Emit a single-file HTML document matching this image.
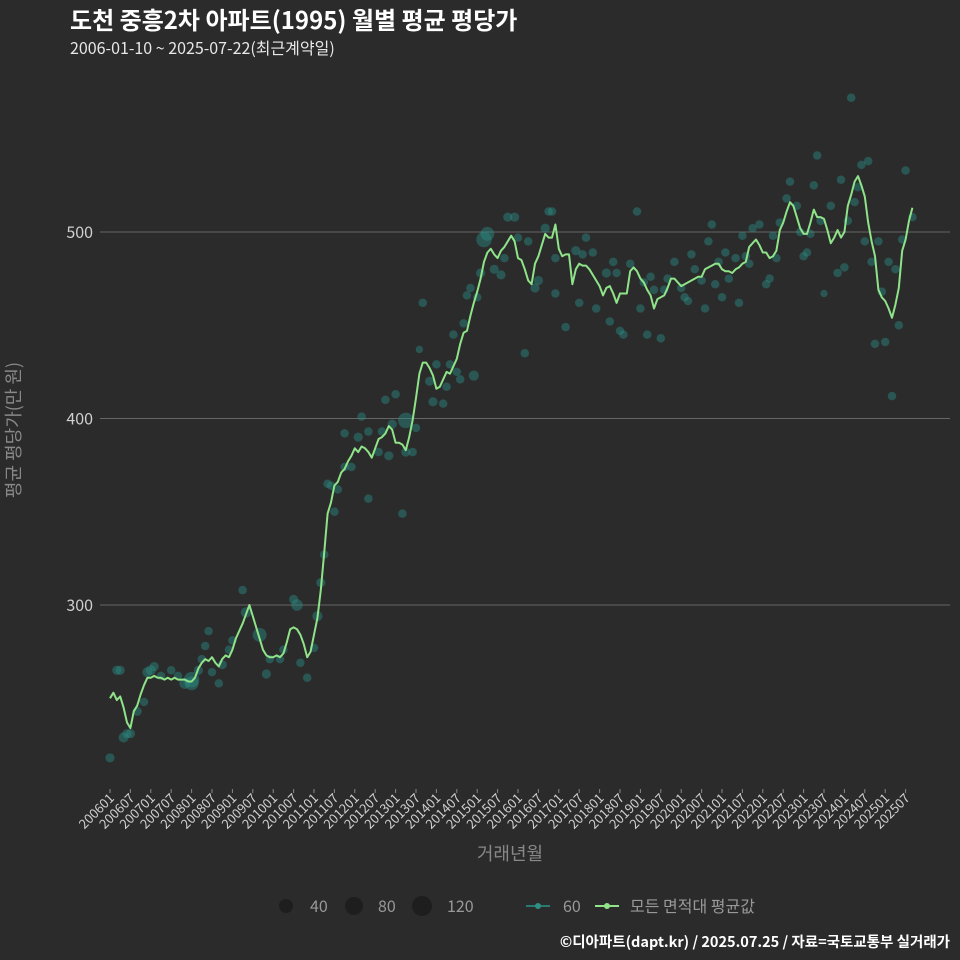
<!DOCTYPE html>
<html><head><meta charset="utf-8">
<style>
html,body{margin:0;padding:0;background:#2b2b2c;}
svg{display:block;font-family:"Noto Sans CJK KR","Liberation Sans",sans-serif;}
</style></head>
<body>
<svg id="chart" width="960" height="960" viewBox="0 0 960 960">
<rect width="960" height="960" fill="#2b2b2c"/>
<text x="70" y="29" fill="#ffffff" font-size="24" font-weight="bold">도천 중흥2차 아파트(1995) 월별 평균 평당가</text>
<text x="70" y="54" fill="#e8e8e8" font-size="16">2006-01-10 ~ 2025-07-22(최근계약일)</text>
<g id="grid"></g>
<g id="yaxis"></g>
<g id="xaxis"></g>
<g id="dots"></g>
<path id="avgline" fill="none" stroke="#8fe388" stroke-width="2" stroke-linejoin="round"/>
<text x="0" y="0" transform="translate(20,430) rotate(-90)" text-anchor="middle" fill="#888" font-size="18">평균 평당가(만 원)</text>
<text x="510" y="860" text-anchor="middle" fill="#888" font-size="18">거래년월</text>
<g>
<circle cx="286" cy="906" r="7" fill="#1e1e1f"/>
<text x="310" y="912" fill="#999" font-size="16">40</text>
<circle cx="354" cy="906" r="9" fill="#1e1e1f"/>
<text x="378" y="912" fill="#999" font-size="16">80</text>
<circle cx="422" cy="906" r="10" fill="#1e1e1f"/>
<text x="447" y="912" fill="#999" font-size="16">120</text>
<line x1="526" y1="906" x2="550" y2="906" stroke="#267a72" stroke-width="2"/>
<circle cx="538" cy="906" r="3" fill="#2f8f85"/>
<text x="563" y="912" fill="#999" font-size="16">60</text>
<line x1="595" y1="906" x2="619" y2="906" stroke="#8fe388" stroke-width="2"/>
<circle cx="607" cy="906" r="3" fill="#8fe388"/>
<text x="630" y="912" fill="#999" font-size="16">모든 면적대 평균값</text>
</g>
<text x="950" y="947" text-anchor="end" fill="#ffffff" font-size="14.5" font-weight="bold">©디아파트(dapt.kr) / 2025.07.25 / 자료=국토교통부 실거래가</text>
</svg>
<script>
// months since 2006-01 and average price
const avgMonths = [];
const avgValues = [250,253,249,251,245,237,234,243,246,252,257,261,261,262,261,261,260,261,260,261,260,260,260,259,259,261,266,269,271,270,272,269,267,271,273,272,276,282,286,290,295,300,294,288,282,276,273,272,272,273,272,274,280,287,288,287,284,279,272,275,284,293,308,328,349,355,364,366,371,373,377,380,384,382,385,384,382,379,384,389,390,392,396,394,387,387,386,383,390,399,411,424,430,430,427,423,416,417,421,425,424,428,432,440,446,447,455,462,468,475,484,489,491,488,486,490,492,495,498,495,486,485,480,474,472,483,487,493,499,497,497,504,491,487,488,488,472,480,483,482,482,480,477,474,471,466,470,471,467,462,467,467,467,479,481,479,475,473,469,466,459,464,465,466,470,475,475,473,471,472,473,474,475,476,476,480,481,482,483,483,480,479,479,478,480,481,483,484,492,494,496,493,489,489,486,487,490,501,505,511,516,514,508,502,499,499,505,512,508,508,507,501,494,497,501,497,500,514,520,527,530,525,519,505,495,487,469,465,463,459,454,461,470,490,496,506,513];
for (let i = 0; i < avgValues.length; i++) avgMonths.push(i);
// individual transactions: month index, price, area
const dotMonths = [0,2,3,4,5,6,8,10,11,12,13,15,18,20,22,24,24,26,27,28,29,30,32,33,35,36,39,40,44,46,47,50,51,54,55,56,58,60,61,62,63,64,65,66,67,69,69,71,73,74,76,76,79,80,81,82,83,84,86,87,87,89,90,91,92,94,95,96,98,99,100,101,102,103,104,105,106,107,108,109,110,111,113,115,116,117,119,120,122,123,125,126,128,129,130,131,131,134,137,138,139,140,142,143,146,147,148,149,150,151,153,155,156,157,158,159,160,162,163,164,166,168,169,170,171,172,174,175,176,177,178,179,180,181,182,184,185,186,187,188,189,191,193,194,195,196,197,199,200,202,203,204,205,206,207,208,209,210,212,214,215,216,217,218,219,220,221,222,223,224,225,226,227,228,229,230,231,232,233,234,236];
const dotValues = [218,265,265,229,231,231,243,248,264,265,267,262,265,262,258,260,258,265,271,278,286,264,258,268,276,281,308,296,284,263,271,271,276,303,300,269,261,277,294,312,327,365,364,350,362,374,392,374,390,401,357,393,382,393,410,380,397,413,349,382,399,382,395,437,462,420,409,429,408,417,429,445,425,421,451,466,470,423,465,478,496,499,480,477,486,508,508,497,435,495,470,474,502,511,511,467,486,449,490,462,488,497,489,459,478,452,484,478,447,445,483,511,459,473,445,476,469,443,469,475,484,470,465,463,488,480,474,459,495,504,472,484,465,489,475,486,462,498,487,483,502,504,472,475,498,486,505,518,527,514,500,487,489,499,525,541,506,467,514,478,528,481,506,572,516,524,536,495,538,484,440,495,468,441,484,412,480,450,496,533,508];
const dotSizes = [70,70,70,85,70,70,70,60,85,85,70,60,60,60,100,200,160,70,60,60,60,60,60,70,60,60,60,90,160,70,60,60,60,70,110,60,60,60,85,70,60,60,60,60,60,60,60,60,70,60,60,60,60,60,60,70,70,60,60,70,200,60,60,45,60,70,70,60,60,60,60,60,60,60,60,60,60,85,60,70,200,160,70,70,60,70,70,60,60,60,70,70,70,60,60,60,60,60,70,60,60,60,60,60,70,60,60,60,60,60,60,60,60,60,60,60,60,60,60,60,60,60,60,60,60,60,60,60,60,60,60,60,60,60,60,60,60,60,60,60,60,60,60,60,60,60,60,60,60,60,60,60,60,60,60,60,60,45,60,60,60,60,60,60,60,60,60,60,60,60,60,60,60,60,60,60,60,60,60,60,60];
const yTicks = [300,400,500];
const xTickLabels = [];
for (let y = 2006; y <= 2025; y++) { xTickLabels.push(y + '01'); xTickLabels.push(y + '07'); }

const NS = 'http://www.w3.org/2000/svg';
const X0 = 110, PXM = 20.4 / 6, LEFT = 100, RIGHT = 950;
function xScale(m) { return X0 + m * PXM; }
function yScale(v) { return 232 + (500 - v) * 1.865; }
function mk(tag, attrs, parent) {
  const e = document.createElementNS(NS, tag);
  for (const k in attrs) e.setAttribute(k, attrs[k]);
  parent.appendChild(e);
  return e;
}
const grid = document.getElementById('grid');
const yaxis = document.getElementById('yaxis');
yTicks.forEach(t => {
  const l = mk('line', {x1: LEFT, x2: RIGHT, y1: yScale(t), y2: yScale(t), stroke: '#666', 'stroke-width': 1}, grid);
  
  
  const tx = mk('text', {x: 93, y: yScale(t) + 6, 'text-anchor': 'end', fill: '#cfcfcf', 'font-size': 16}, yaxis);
  tx.textContent = t;
  
  
});
const xaxis = document.getElementById('xaxis');
xTickLabels.forEach((lab, i) => {
  const x = xScale(i * 6);
  const tk = mk('line', {x1: x, x2: x, y1: 789, y2: 793, stroke: '#888', 'stroke-width': 1}, xaxis);
  
  
  const tx = mk('text', {x: 0, y: 0, transform: 'translate(' + (x + 5) + ',799) rotate(-45)', 'text-anchor': 'end', fill: '#cfcfcf', 'font-size': 13}, xaxis);
  tx.textContent = lab;
  
  
});
const dots = document.getElementById('dots');
dotMonths.forEach((m, i) => {
  const c = mk('circle', {cx: xScale(m), cy: yScale(dotValues[i]), r: Math.sqrt(dotSizes[i]) * 0.55, fill: '#2a8c82', 'fill-opacity': 0.45}, dots);
  
  
});
let d = '';
avgMonths.forEach((m, i) => { d += (i ? 'L' : 'M') + xScale(m).toFixed(1) + ',' + yScale(avgValues[i]).toFixed(1); });
document.getElementById('avgline').setAttribute('d', d);
</script>
</body></html>
